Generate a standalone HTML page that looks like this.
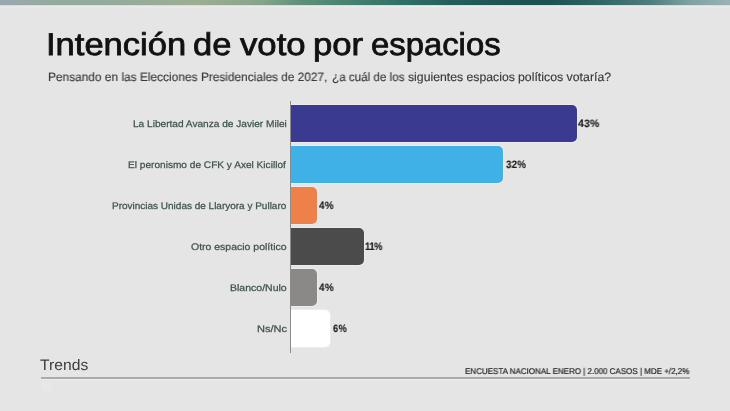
<!DOCTYPE html>
<html><head><meta charset="utf-8">
<style>
html,body{margin:0;padding:0;}
body{width:730px;height:411px;overflow:hidden;background:#e5e5e5;position:relative;font-family:"Liberation Sans",sans-serif;}
.topbar{position:absolute;left:0;top:0;width:730px;height:5px;background:linear-gradient(90deg,#9aa8b0 0%,#93ab9e 8%,#93ab9e 14%,#9dae92 27%,#85a489 36%,#5f917b 41%,#468270 48%,#2f7066 55%,#235f5a 62%,#1e5654 68%,#1b5252 75%,#2f6564 82%,#4d7d7c 89%,#7ea3a1 94.5%,#9ab2b3 100%);}
.topfade{position:absolute;left:0;top:5px;width:730px;height:3px;background:linear-gradient(180deg,rgba(175,185,180,.7) 0%,rgba(240,240,240,.8) 30%,rgba(236,236,236,.6) 60%,rgba(229,229,229,0) 100%);}
.t{position:absolute;white-space:nowrap;transform-origin:0 0;line-height:1;will-change:transform;text-rendering:geometricPrecision;}
.axis{position:absolute;left:290px;top:101px;width:1px;height:252px;background:#8c8c8c;}
.bar{position:absolute;left:290.8px;height:37px;border-radius:0 5px 5px 0;box-shadow:0 0 0 1px rgba(250,250,255,.3),0 0 2px 1px rgba(245,245,255,.25);}
.rule{position:absolute;left:41px;top:377px;width:648.5px;height:2px;background:#ababab;box-shadow:0 1px 1px rgba(255,255,255,.35);}
</style></head><body>
<div class="topbar"></div><div class="topfade"></div>
<div class="bar" style="top:105px;width:286px;background:#3a3b90;"></div>
<div class="bar" style="top:146px;width:212.4px;background:#3fb1e6;"></div>
<div class="bar" style="top:187px;width:26.1px;background:#ee8149;"></div>
<div class="bar" style="top:228px;width:73.2px;background:#4b4b4b;"></div>
<div class="bar" style="top:269px;width:26.4px;background:#8b8888;"></div>
<div class="bar" style="top:310px;width:39.2px;background:#ffffff;"></div>
<div class="axis"></div>
<div class="t" id="t1" style="left:46.29px;top:29.15px;font-size:31.5px;color:#111;font-weight:400;transform:scaleX(1.0966);-webkit-text-stroke:0.8px #111;">Intención</div>
<div class="t" id="t2" style="left:192.58px;top:29.15px;font-size:31.5px;color:#111;font-weight:400;transform:scaleX(1.0953);-webkit-text-stroke:0.8px #111;">de</div>
<div class="t" id="t3" style="left:240.24px;top:29.15px;font-size:31.5px;color:#111;font-weight:400;transform:scaleX(1.1028);-webkit-text-stroke:0.8px #111;">voto</div>
<div class="t" id="t4" style="left:312.53px;top:29.15px;font-size:31.5px;color:#111;font-weight:400;transform:scaleX(1.1023);-webkit-text-stroke:0.8px #111;">por</div>
<div class="t" id="t5" style="left:370.65px;top:29.15px;font-size:31.5px;color:#111;font-weight:400;transform:scaleX(1.0422);-webkit-text-stroke:0.8px #111;">espacios</div>
<div class="t" id="s1" style="left:47.83px;top:70.76px;font-size:12.1px;color:#3a3a3a;font-weight:400;transform:scaleX(0.9833);-webkit-text-stroke:0.15px #3a3a3a;">Pensando en las Elecciones</div>
<div class="t" id="s2" style="left:200.99px;top:70.76px;font-size:12.1px;color:#3a3a3a;font-weight:400;transform:scaleX(0.9786);-webkit-text-stroke:0.15px #3a3a3a;">Presidenciales de 2027,</div>
<div class="t" id="s3" style="left:331.80px;top:70.76px;font-size:12.1px;color:#3a3a3a;font-weight:400;transform:scaleX(0.9631);-webkit-text-stroke:0.15px #3a3a3a;">¿a cuál de los</div>
<div class="t" id="s4" style="left:407.85px;top:70.76px;font-size:12.1px;color:#3a3a3a;font-weight:400;transform:scaleX(1.0128);-webkit-text-stroke:0.15px #3a3a3a;">siguientes espacios</div>
<div class="t" id="s5" style="left:518.31px;top:70.76px;font-size:12.1px;color:#3a3a3a;font-weight:400;transform:scaleX(1.0185);-webkit-text-stroke:0.15px #3a3a3a;">políticos votaría?</div>
<div class="t" id="lab1" style="left:132.86px;top:120.07px;font-size:9.6px;color:#40534e;font-weight:400;transform:scaleX(1.0537);-webkit-text-stroke:0.25px #40534e;">La Libertad Avanza de Javier Milei</div>
<div class="t" id="lab2" style="left:128.48px;top:161.27px;font-size:9.6px;color:#40534e;font-weight:400;transform:scaleX(1.0534);-webkit-text-stroke:0.25px #40534e;">El peronismo de CFK y Axel Kicillof</div>
<div class="t" id="lab3" style="left:111.87px;top:202.42px;font-size:9.6px;color:#40534e;font-weight:400;transform:scaleX(1.0410);-webkit-text-stroke:0.25px #40534e;">Provincias Unidas de Llaryora y Pullaro</div>
<div class="t" id="lab4" style="left:191.29px;top:243.26px;font-size:9.6px;color:#40534e;font-weight:400;transform:scaleX(1.0923);-webkit-text-stroke:0.25px #40534e;">Otro espacio político</div>
<div class="t" id="lab5" style="left:229.55px;top:284.24px;font-size:9.6px;color:#40534e;font-weight:400;transform:scaleX(1.0963);-webkit-text-stroke:0.25px #40534e;">Blanco/Nulo</div>
<div class="t" id="lab6" style="left:257.16px;top:325.35px;font-size:9.6px;color:#40534e;font-weight:400;transform:scaleX(1.1534);-webkit-text-stroke:0.25px #40534e;">Ns/Nc</div>
<div class="t" id="val1" style="left:578.23px;top:119.06px;font-size:10.8px;color:#1e1e1e;font-weight:700;transform:scaleX(0.9642);letter-spacing:0.3px;-webkit-text-stroke:0.15px #1e1e1e;">43%</div>
<div class="t" id="val2" style="left:505.55px;top:159.96px;font-size:10.8px;color:#1e1e1e;font-weight:700;transform:scaleX(0.9011);letter-spacing:0.3px;-webkit-text-stroke:0.15px #1e1e1e;">32%</div>
<div class="t" id="val3" style="left:318.77px;top:200.86px;font-size:10.8px;color:#1e1e1e;font-weight:700;transform:scaleX(0.9052);letter-spacing:0.6px;-webkit-text-stroke:0.15px #1e1e1e;">4%</div>
<div class="t" id="val4" style="left:364.75px;top:241.76px;font-size:10.8px;color:#1e1e1e;font-weight:700;transform:scaleX(0.8671);letter-spacing:-0.45px;-webkit-text-stroke:0.15px #1e1e1e;">11%</div>
<div class="t" id="val5" style="left:318.67px;top:282.96px;font-size:10.8px;color:#1e1e1e;font-weight:700;transform:scaleX(0.9109);letter-spacing:0.6px;-webkit-text-stroke:0.15px #1e1e1e;">4%</div>
<div class="t" id="val6" style="left:333.01px;top:324.06px;font-size:10.8px;color:#1e1e1e;font-weight:700;transform:scaleX(0.8530);letter-spacing:0.6px;-webkit-text-stroke:0.15px #1e1e1e;">6%</div>
<div class="t" id="logo" style="left:40.15px;top:358.38px;font-size:15.26px;color:#3c3c3c;font-weight:400;transform:scaleX(1.0288);">Trends</div>
<div class="t" id="foot" style="left:464.79px;top:367.30px;font-size:8.4px;color:#222;font-weight:400;transform:scaleX(0.9547);-webkit-text-stroke:0.2px #222;">ENCUESTA NACIONAL ENERO | 2.000 CASOS | MDE +/2,2%</div>
<div class="rule"></div>
<div style="position:absolute;left:41px;top:382px;width:11px;height:9px;background:rgba(255,255,255,.14);"></div>
</body></html>
